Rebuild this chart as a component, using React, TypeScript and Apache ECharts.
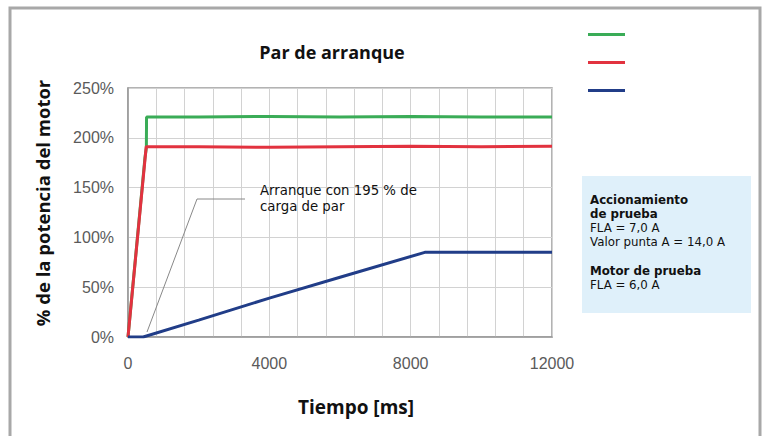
import React, { useEffect, useRef } from "react";
import * as echarts from "echarts";

const seriesNames = ["Par del motor", "Par de carga", "Velocidad"];
const seriesColors = ["#3aac57", "#e2323f", "#213d88"];
// [time ms, % of motor power]
const greenData: [number, number][] = [
  [0, 0], [480, 180], [520, 190], [525, 221], [2000, 221], [4000, 221.5],
  [6000, 221], [8000, 221.5], [10000, 221], [12000, 221],
];
const redData: [number, number][] = [
  [0, 0], [515, 191], [2000, 191], [4000, 190.5], [6000, 191],
  [8000, 191.5], [10000, 191], [12000, 191.5],
];
const blueData: [number, number][] = [
  [0, 0], [430, 0], [2000, 17], [4000, 39], [6000, 60], [8400, 85],
  [10000, 85], [12000, 85],
];
const xTicks = [0, 4000, 8000, 12000];
const yTicks = [0, 50, 100, 150, 200, 250];

const boxLines = [
  { text: "Accionamiento", bold: true },
  { text: "de prueba", bold: true },
  { text: "FLA = 7,0 A", bold: false },
  { text: "Valor punta A = 14,0 A", bold: false },
  { text: "", bold: false },
  { text: "Motor de prueba", bold: true },
  { text: "FLA = 6,0 A", bold: false },
];
const noteLines = ["Arranque con 195 % de", "carga de par"];

export default function App() {
  const ref = useRef<HTMLDivElement>(null);
  useEffect(() => {
    if (!ref.current) return;
    const chart = echarts.init(ref.current, undefined, { renderer: "svg" });
    const font = "'Open Sans', 'Noto Sans', sans-serif";
    const smallFont = "'DejaVu Sans', sans-serif";
    const tickFont = "'Liberation Sans', Arial, sans-serif";
    const boxTexts: any[] = [];
    let y = 200;
    boxLines.forEach((l, i) => {
      if (l.text) {
        boxTexts.push({
          type: "text",
          x: 590,
          y: y,
          z: 60,
          style: {
            text: l.text,
            font: `${l.bold ? "bold " : ""}11.8px ${smallFont}`,
            fill: "#111",
            verticalAlign: "middle",
          },
        });
      }
      y += i === 4 ? 15 : 14;
    });
    const noteTexts = noteLines.map((t, i) => ({
      type: "text",
      x: 260,
      y: 190 + i * 16,
      z: 50,
      style: { text: t, font: `13.3px ${smallFont}`, fill: "#111", verticalAlign: "middle" },
    }));
    chart.setOption({
      animation: false,
      backgroundColor: "#fff",
      title: {
        text: "Par de arranque",
        left: 327,
        top: 38,
        textAlign: "center",
        textStyle: { fontFamily: font, fontWeight: "bold", fontSize: 18, color: "#111" },
      },
      legend: {
        orient: "vertical",
        left: 583,
        top: 28,
        icon: "rect",
        itemWidth: 37,
        itemHeight: 3,
        itemGap: 25,
        formatter: () => "",
        textStyle: { fontSize: 10 },
        data: seriesNames,
      },
      grid: {
        left: 128,
        right: 217,
        top: 88,
        bottom: 99,
        show: true,
        borderColor: "#9a9a9a",
        borderWidth: 1.5,
      },
      xAxis: {
        type: "value",
        min: 0,
        max: 12000,
        interval: 800,
        axisLine: { show: true, lineStyle: { color: "#9a9a9a", width: 1.5 } },
        axisTick: { show: false },
        splitLine: { show: true, lineStyle: { color: "#d2d2d2", width: 1 } },
        axisLabel: {
          margin: 18,
          color: "#5a5a5a",
          fontFamily: tickFont,
          fontSize: 16,
          formatter: (v: number) => (xTicks.includes(v) ? String(v) : ""),
        },
        name: "Tiempo [ms]",
        nameLocation: "middle",
        nameGap: 60,
        nameTextStyle: { fontFamily: font, fontWeight: "bold", fontSize: 19, color: "#111", padding: [0, 0, 0, 32] },
      },
      yAxis: {
        type: "value",
        min: 0,
        max: 250,
        interval: 50,
        axisLine: { show: true, lineStyle: { color: "#9a9a9a", width: 1.5 } },
        axisTick: { show: false },
        splitLine: { show: true, lineStyle: { color: "#d2d2d2", width: 1 } },
        axisLabel: {
          margin: 14,
          color: "#5a5a5a",
          fontFamily: tickFont,
          fontSize: 16,
          formatter: (v: number) => (yTicks.includes(v) ? v + "%" : ""),
        },
      },
      series: [
        { name: seriesNames[0], type: "line", data: greenData, symbol: "none", lineStyle: { width: 3, color: seriesColors[0] }, itemStyle: { color: seriesColors[0] }, z: 3 },
        { name: seriesNames[1], type: "line", data: redData, symbol: "none", lineStyle: { width: 3, color: seriesColors[1] }, itemStyle: { color: seriesColors[1] }, z: 4 },
        { name: seriesNames[2], type: "line", data: blueData, symbol: "none", lineStyle: { width: 3, color: seriesColors[2] }, itemStyle: { color: seriesColors[2] }, z: 5 },
      ],
      graphic: [
        {
          type: "rect",
          shape: { x: 10, y: 8, width: 750, height: 460 },
          style: { fill: "none", stroke: "#a8a8a8", lineWidth: 3 },
          z: 100,
        },
        {
          type: "text",
          x: 42,
          y: 203,
          rotation: Math.PI / 2,
          style: {
            text: "% de la potencia del motor",
            font: `bold 18.5px ${font}`,
            fill: "#111",
            align: "center",
            verticalAlign: "middle",
          },
        },
        {
          type: "polyline",
          shape: { points: [[245, 199], [197, 199], [147, 332]] },
          style: { stroke: "#888", lineWidth: 1, fill: "none" },
          z: 50,
        },
        ...noteTexts,
        {
          type: "rect",
          shape: { x: 582, y: 176, width: 169, height: 137 },
          style: { fill: "#dff0fa" },
        },
        ...boxTexts,
      ],
    });
    return () => chart.dispose();
  }, []);
  return <div ref={ref} style={{ position: "fixed", left: 0, top: 0, width: 769, height: 436 }} />;
}
